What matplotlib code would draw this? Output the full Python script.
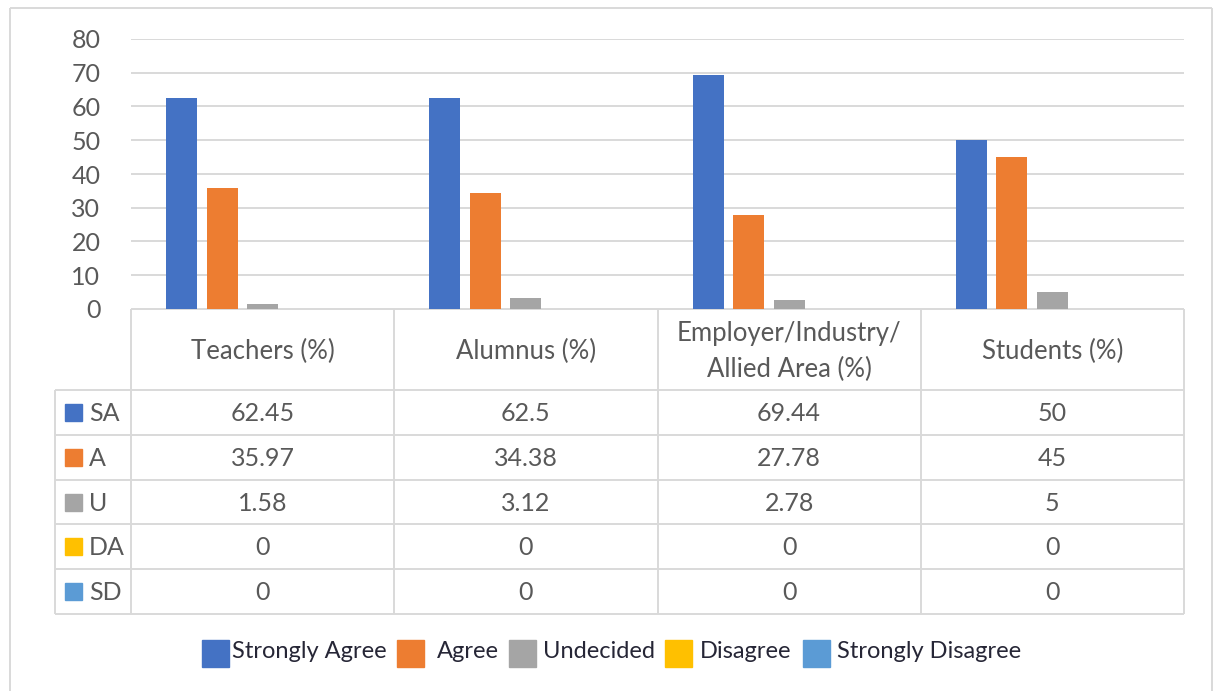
import numpy as np
import matplotlib
matplotlib.use('Agg')
import matplotlib.pyplot as plt
from matplotlib.patches import Rectangle

plt.rcParams['font.family'] = ['Lato', 'DejaVu Sans']

# ── DATA ──
groups  = ['Teachers (%)', 'Alumnus (%)', 'Employer/Industry/\nAllied Area (%)', 'Students (%)']
codes   = ['SA', 'A', 'U', 'DA', 'SD']
names   = ['Strongly Agree', 'Agree', 'Undecided', 'Disagree', 'Strongly Disagree']
sa = [62.45, 62.5, 69.44, 50]
ag = [35.97, 34.38, 27.78, 45]
un = [1.58, 3.12, 2.78, 5]
da = [0, 0, 0, 0]
sd = [0, 0, 0, 0]
series = [sa, ag, un, da, sd]
colors = ['#4472C4', '#ED7D31', '#A5A5A5', '#FFC000', '#5B9BD5']
yticks = [0, 10, 20, 30, 40, 50, 60, 70, 80]

# ── LAYOUT (pixels) ──
W, H = 1213, 691
PL, PR, PT, PB = 131, 1184, 39, 309
GRID = '#D9D9D9'
TXT = '#595959'

fig = plt.figure(figsize=(W / 100, H / 100), dpi=100)

ax = fig.add_axes([PL / W, 1 - PB / H, (PR - PL) / W, (PB - PT) / H])
x = np.arange(len(groups))
slot, bw = 0.154, 0.118
for j, vals in enumerate(series):
    ax.bar(x + (j - 2) * slot, vals, width=bw, color=colors[j], zorder=3)
ax.set_xlim(-0.5, len(groups) - 0.5)
ax.set_ylim(0, 80)
ax.set_yticks(yticks)
ax.set_xticks([])
ax.tick_params(axis='y', length=0, pad=22, labelsize=18, labelcolor=TXT)
ax.grid(axis='y', color=GRID, lw=1.4, zorder=0)
for s in ax.spines.values():
    s.set_visible(False)

# overlay in pixel coordinates for the data table, frame and legend
ov = fig.add_axes([0, 0, 1, 1], zorder=-1)
ov.set_xlim(0, W)
ov.set_ylim(H, 0)
ov.axis('off')

def hline(y, x0, x1):
    ov.plot([x0, x1], [y, y], color=GRID, lw=1.4, solid_capstyle='butt')

def vline(xx, y0, y1):
    ov.plot([xx, xx], [y0, y1], color=GRID, lw=1.4, solid_capstyle='butt')

# outer frame
hline(8, 10, 1212)
vline(10, 8, H)
vline(1212, 8, H)

# table grid
col_x = np.linspace(PL, PR, len(groups) + 1)
LX = 55
head_bot = 390
row_h = 44.8
row_y = head_bot + row_h * np.arange(len(codes) + 1)
hline(PB, PL, PR)
for ry in row_y:
    hline(ry, LX, PR)
for cx in col_x:
    vline(cx, PB, row_y[-1])
vline(LX, head_bot, row_y[-1])

for i, g in enumerate(groups):
    cx = (col_x[i] + col_x[i + 1]) / 2
    ov.text(cx, (PB + head_bot) / 2 + 2, g, ha='center', va='center',
            fontsize=18.5, color=TXT, linespacing=1.5)

for r, code in enumerate(codes):
    cy = (row_y[r] + row_y[r + 1]) / 2
    ov.add_patch(Rectangle((65, cy - 8.5), 17, 17, color=colors[r]))
    ov.text(89, cy + 1, code, ha='left', va='center', fontsize=18, color=TXT)
    for i in range(len(groups)):
        cx = (col_x[i] + col_x[i + 1]) / 2
        v = series[r][i]
        ov.text(cx, cy + 1, f'{v:g}', ha='center', va='center',
                fontsize=18, color=TXT)

# legend (hand-placed like the original)
leg_x = [202, 397, 509, 665, 803]
leg_tx = [232, 437, 543, 700, 837]
for k, nm in enumerate(names):
    ov.add_patch(Rectangle((leg_x[k], 640), 27, 27, color=colors[k]))
    ov.text(leg_tx[k], 652, nm, ha='left', va='center',
            fontsize=17, color='#262636')

fig.savefig('out.png', dpi=100)
